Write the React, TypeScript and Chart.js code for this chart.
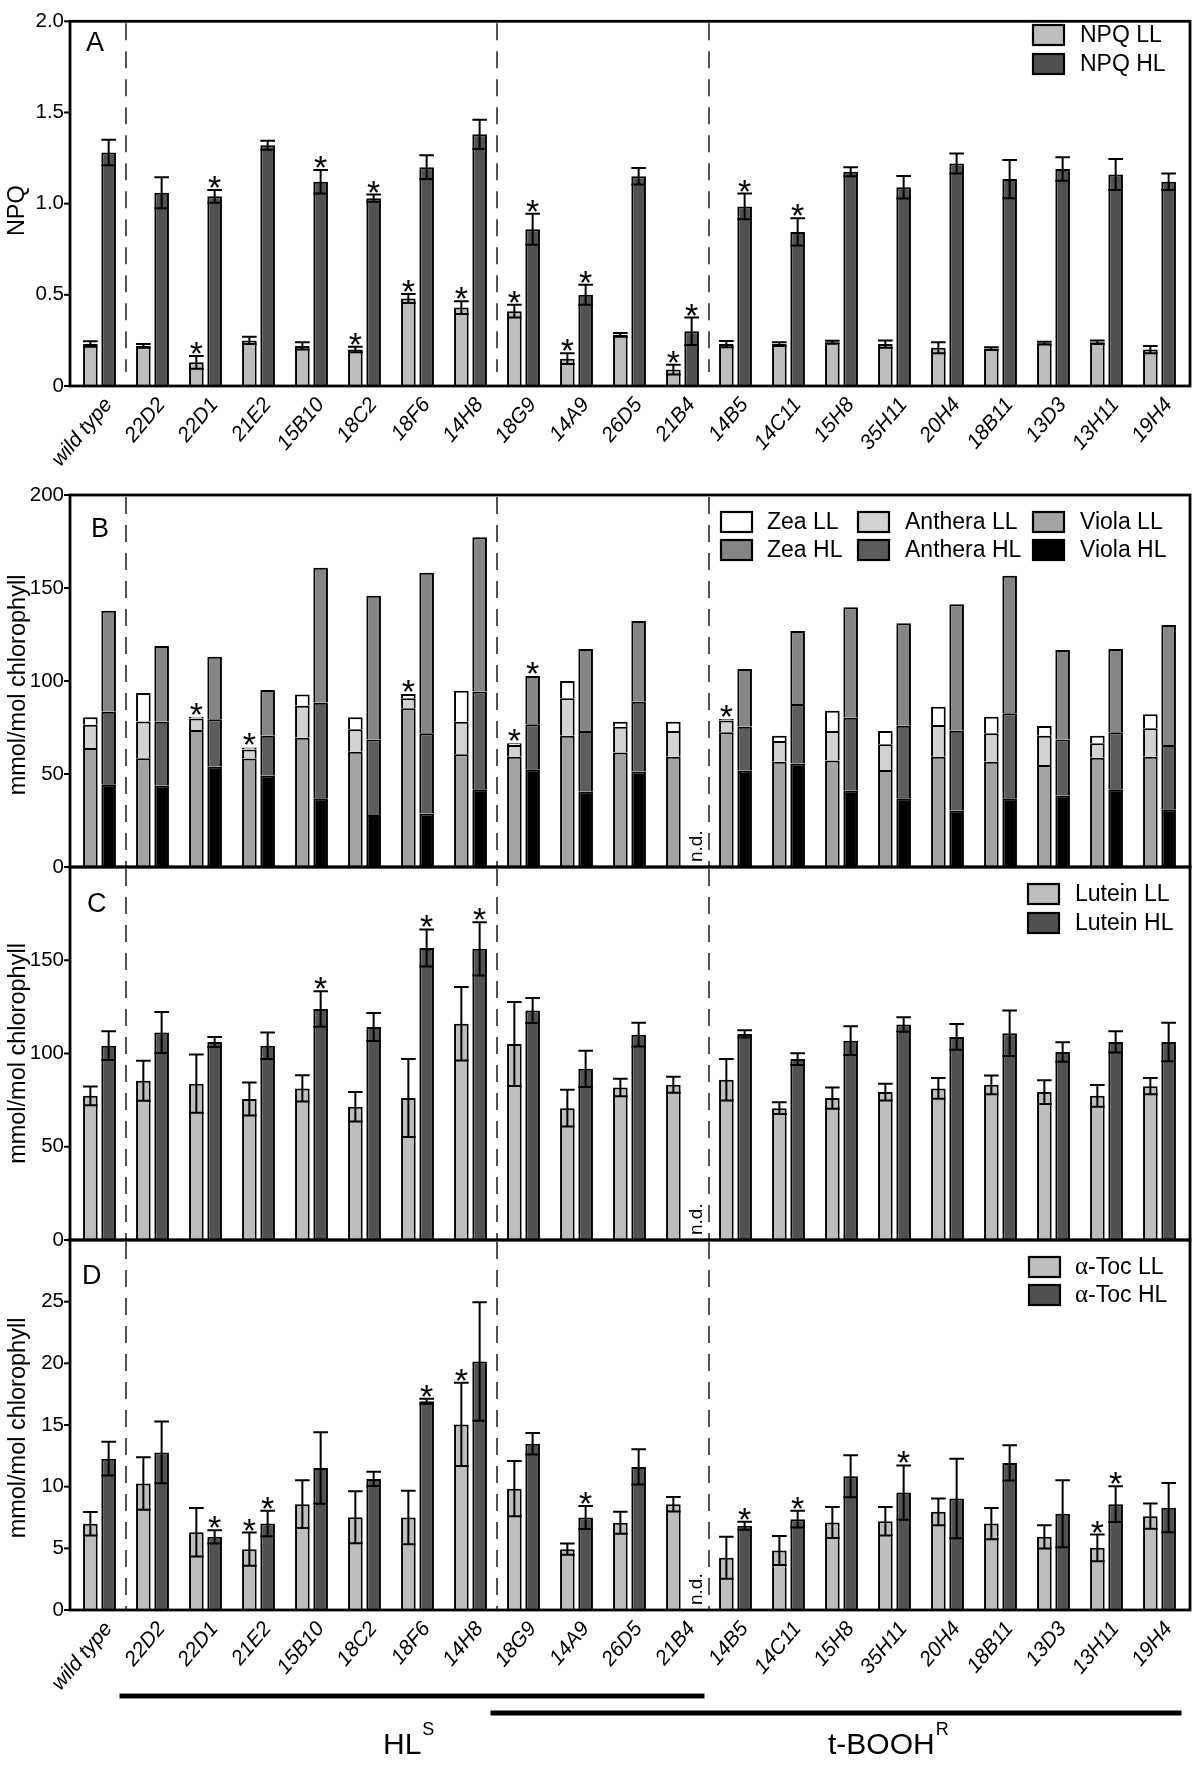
import React, { useEffect, useRef } from "react";
import { Chart, registerables } from "chart.js";

Chart.register(...registerables);

const FONT = "'Liberation Sans', Arial, Helvetica, sans-serif";
const SERIF = "'Liberation Serif', 'DejaVu Serif', serif";

const categories = ["wild type", "22D2", "22D1", "21E2", "15B10", "18C2", "18F6", "14H8", "18G9", "14A9", "26D5", "21B4", "14B5", "14C11", "15H8", "35H11", "20H4", "18B11", "13D3", "13H11", "19H4"];
const dividerAfter = [0, 7, 11];
const ndIndex = 11;
const groupNames = ["HL", "t-BOOH"];
const groupSup = ["S", "R"];
const groupFirst = [1, 8];
const groupLast = [11, 20];

// Panel A - NPQ
const npqLL = [0.23, 0.22, 0.13, 0.25, 0.22, 0.2, 0.48, 0.43, 0.41, 0.15, 0.28, 0.09, 0.23, 0.23, 0.24, 0.23, 0.21, 0.205, 0.235, 0.24, 0.2];
const npqLLErr = [0.015, 0.01, 0.035, 0.02, 0.02, 0.015, 0.025, 0.035, 0.035, 0.03, 0.01, 0.027, 0.017, 0.01, 0.008, 0.02, 0.03, 0.008, 0.008, 0.01, 0.02];
const npqLLSig = [0, 0, 1, 0, 0, 1, 1, 1, 1, 1, 0, 1, 0, 0, 0, 0, 0, 0, 0, 0, 0];
const npqHL = [1.28, 1.06, 1.04, 1.32, 1.12, 1.03, 1.2, 1.38, 0.86, 0.5, 1.15, 0.3, 0.985, 0.845, 1.175, 1.09, 1.22, 1.135, 1.19, 1.16, 1.12];
const npqHLErr = [0.07, 0.085, 0.035, 0.025, 0.065, 0.02, 0.065, 0.08, 0.085, 0.055, 0.045, 0.075, 0.07, 0.075, 0.025, 0.062, 0.055, 0.105, 0.065, 0.085, 0.045];
const npqHLSig = [0, 0, 1, 0, 1, 1, 0, 0, 1, 1, 0, 1, 1, 1, 0, 0, 0, 0, 0, 0, 0];

// Panel B - xanthophylls (stacked)
const violaLL = [64, 58.5, 73.7, 58.4, 69.5, 62, 85.3, 60.6, 59.3, 70.6, 61.5, 59.3, 72.4, 56.6, 57.2, 52.2, 59.3, 56.6, 54.8, 58.8, 59.3];
const antheraLL = [12.5, 19.7, 6.2, 4.8, 17.2, 12, 5.4, 17.5, 6.3, 20.1, 13.9, 13.8, 6.3, 11.1, 15.9, 13.8, 17, 15.3, 15.8, 7.7, 15.3];
const zeaLL = [4, 15.3, 0.9, 1.1, 6.1, 6.5, 2.3, 16.7, 0.9, 9.3, 2.7, 5, 0.9, 2.9, 10.9, 7.1, 9.9, 8.9, 5.2, 4.1, 7.5];
const xanLLSig = [0, 0, 1, 1, 0, 0, 1, 0, 1, 0, 0, 0, 1, 0, 0, 0, 0, 0, 0, 0, 0];
const violaHL = [44.5, 43.7, 53.9, 49.1, 36.9, 28, 28.8, 41.8, 52.5, 40.5, 51.3, null, 51.8, 55.7, 41, 36.9, 30.3, 36.9, 38.3, 41.8, 31];
const antheraHL = [39, 34.4, 25.5, 21.5, 51.4, 40.6, 43.1, 52.5, 24.2, 32.6, 37.6, null, 23.6, 31.9, 39.3, 39, 43, 45.7, 30.3, 30.6, 34.6];
const zeaHL = [54.3, 40.7, 33.6, 24.6, 72.6, 77.3, 86.3, 83, 26, 44.1, 43.4, null, 31.1, 39.3, 59.3, 55.1, 67.9, 74, 48.1, 44.8, 64.5];
const xanHLSig = [0, 0, 0, 0, 0, 0, 0, 0, 1, 0, 0, 0, 0, 0, 0, 0, 0, 0, 0, 0, 0];

// Panel C - lutein
const lutLL = [77.3, 85.4, 83.8, 75.6, 81.3, 71.4, 76.1, 116, 105.1, 70.7, 81.8, 83.2, 85.9, 70.7, 76.1, 79.3, 81.3, 83.2, 79.3, 77.3, 82.5];
const lutLLErr = [5, 10.7, 15.6, 8.9, 7, 7.9, 20.9, 19.7, 22.5, 9.8, 4.7, 4.3, 11.1, 3.2, 5.7, 4.5, 5.5, 5, 6.4, 5.8, 4.3];
const lutHL = [104.2, 111.3, 106.2, 104.2, 123.9, 114.2, 156.6, 156.1, 123.1, 91.8, 110.1, null, 110.5, 97, 106.9, 115.5, 108.9, 110.8, 100.8, 106.2, 106.2];
const lutHLErr = [7.7, 11, 2.7, 7.1, 9.5, 7.5, 9.9, 14.3, 6.7, 9.7, 6.4, 0, 1.9, 3.2, 7.7, 3.9, 6.9, 12.2, 5.2, 5.7, 10.3];
const lutHLSig = [0, 0, 0, 0, 1, 0, 1, 1, 0, 0, 0, 0, 0, 0, 0, 0, 0, 0, 0, 0, 0];

// Panel D - alpha-tocopherol
const tocLL = [7.0, 10.25, 6.3, 4.93, 8.58, 7.52, 7.5, 15.05, 9.84, 4.93, 7.07, 8.58, 4.24, 4.83, 7.1, 7.2, 7.96, 7.01, 5.93, 5.04, 7.61];
const tocLLErr = [0.95, 2.13, 1.97, 1.35, 1.94, 2.1, 2.16, 3.37, 2.24, 0.46, 0.89, 0.59, 1.7, 1.18, 1.26, 1.16, 1.08, 1.27, 0.95, 1.08, 1.02];
const tocLLSig = [0, 0, 0, 1, 0, 0, 0, 1, 0, 0, 0, 0, 0, 0, 0, 0, 0, 0, 0, 1, 0];
const tocHL = [12.27, 12.78, 5.93, 7.01, 11.52, 10.63, 16.93, 20.15, 13.48, 7.5, 11.6, null, 6.83, 7.36, 10.84, 9.52, 9.04, 11.92, 7.8, 8.58, 8.3];
const tocHLErr = [1.37, 2.5, 0.54, 1.03, 2.9, 0.57, 0.2, 4.8, 0.87, 0.94, 1.43, 0, 0.32, 0.68, 1.7, 2.2, 3.23, 1.43, 2.72, 1.45, 2.0];
const tocHLSig = [0, 0, 1, 1, 0, 0, 1, 0, 0, 1, 0, 0, 1, 1, 0, 1, 0, 0, 0, 1, 0];

const LL_COLOR = "#bdbdbd";
const HL_COLOR = "#515151";
const FRAME_L = 70;
const FRAME_R = 1190;

const decor = {
  id: "decor",
  afterDraw(chart: any, _args: any, o: any) {
    const ctx = chart.ctx;
    const ca = chart.chartArea;
    const xS = chart.scales.x;
    const yS = chart.scales.y;
    ctx.save();

    // dashed dividers
    ctx.strokeStyle = "#1a1a1a";
    ctx.lineWidth = 1.5;
    ctx.setLineDash([17, 11]);
    for (const b of dividerAfter) {
      const x = Math.round((xS.getPixelForValue(b) + xS.getPixelForValue(b + 1)) / 2);
      ctx.beginPath();
      ctx.moveTo(x, ca.top + 2);
      ctx.lineTo(x, ca.bottom - o.dashBottom);
      ctx.stroke();
    }
    ctx.setLineDash([]);

    // error bars + significance marks
    ctx.strokeStyle = "#000";
    ctx.lineWidth = 2;
    chart.data.datasets.forEach((ds: any, di: number) => {
      const meta = chart.getDatasetMeta(di);
      ds.data.forEach((v: any, i: number) => {
        if (v == null) return;
        const el: any = meta.data[i];
        let top = el.y;
        if (ds.errors) {
          const e = ds.errors[i];
          top = yS.getPixelForValue(v + e);
          const bot = yS.getPixelForValue(v - e);
          const hw = el.width / 2;
          ctx.beginPath();
          ctx.moveTo(el.x, top);
          ctx.lineTo(el.x, bot);
          ctx.moveTo(el.x - hw, top);
          ctx.lineTo(el.x + hw, top);
          ctx.moveTo(el.x - hw, bot);
          ctx.lineTo(el.x + hw, bot);
          ctx.stroke();
        }
        if (ds.sig && ds.sig[i]) {
          ctx.fillStyle = "#000";
          ctx.font = `34px ${FONT}`;
          ctx.textAlign = "center";
          ctx.textBaseline = "alphabetic";
          ctx.fillText("*", el.x, top + 9);
        }
      });
    });

    // frame
    ctx.strokeStyle = "#000";
    ctx.lineWidth = 2.8;
    ctx.strokeRect(FRAME_L, ca.top, FRAME_R - FRAME_L, ca.bottom - ca.top);

    // y tick marks
    ctx.lineWidth = 2;
    yS.ticks.forEach((t: any) => {
      const y = yS.getPixelForValue(t.value);
      ctx.beginPath();
      ctx.moveTo(FRAME_L - 6, y);
      ctx.lineTo(FRAME_L, y);
      ctx.stroke();
    });

    // panel letter
    ctx.fillStyle = "#000";
    ctx.font = `27px ${FONT}`;
    ctx.textAlign = "left";
    ctx.textBaseline = "alphabetic";
    ctx.fillText(o.letter, o.letterX, o.letterY);

    // y title
    ctx.save();
    ctx.translate(o.titleX, (ca.top + ca.bottom) / 2 + (o.titleDy || 0));
    ctx.rotate(-Math.PI / 2);
    ctx.font = `23.5px ${FONT}`;
    ctx.textAlign = "center";
    ctx.textBaseline = "middle";
    ctx.fillText(o.title, 0, 0);
    ctx.restore();

    // legend
    const lg = o.legend;
    lg.cols.forEach((col: any) => {
      col.ds.forEach((di: number, r: number) => {
        const ds = chart.data.datasets[di];
        const y = lg.rows[r];
        ctx.fillStyle = ds.backgroundColor;
        ctx.fillRect(col.x, y, 31, 20);
        ctx.strokeStyle = "#000";
        ctx.lineWidth = 2.2;
        ctx.strokeRect(col.x, y, 31, 20);
        ctx.fillStyle = "#000";
        ctx.textAlign = "left";
        ctx.textBaseline = "middle";
        let tx = col.x + col.dx;
        let label: string = ds.label;
        if (label.startsWith("α")) {
          ctx.font = `25px ${SERIF}`;
          ctx.fillText("α", tx, y + 10);
          tx += ctx.measureText("α").width;
          label = label.slice(1);
        }
        ctx.font = `23px ${FONT}`;
        ctx.fillText(label, tx, y + 11);
      });
    });

    // n.d.
    if (o.nd) {
      ctx.save();
      ctx.translate(xS.getPixelForValue(ndIndex) + 14, ca.bottom - 5);
      ctx.rotate(-Math.PI / 2);
      ctx.font = `19px ${FONT}`;
      ctx.textAlign = "left";
      ctx.textBaseline = "middle";
      ctx.fillText("n.d.", 0, 0);
      ctx.restore();
    }

    // category labels
    if (o.labels) {
      ctx.font = `italic 21px ${FONT}`;
      ctx.textAlign = "right";
      ctx.textBaseline = "middle";
      categories.forEach((c, i) => {
        ctx.save();
        ctx.translate(xS.getPixelForValue(i) + 9, ca.bottom + 15);
        ctx.rotate((-50 * Math.PI) / 180);
        ctx.fillText(c, 0, 0);
        ctx.restore();
      });
    }

    // group bars
    if (o.groups) {
      const gY = [1696, 1713];
      const gTX = [383, 828];
      groupNames.forEach((g, k) => {
        const x0 = xS.getPixelForValue(groupFirst[k]) - 33;
        const x1 = xS.getPixelForValue(groupLast[k]) + 22;
        ctx.strokeStyle = "#000";
        ctx.lineWidth = 5;
        ctx.beginPath();
        ctx.moveTo(x0, gY[k]);
        ctx.lineTo(x1, gY[k]);
        ctx.stroke();
        ctx.fillStyle = "#000";
        ctx.textAlign = "left";
        ctx.textBaseline = "alphabetic";
        ctx.font = `30px ${FONT}`;
        ctx.fillText(g, gTX[k], 1754);
        const w = ctx.measureText(g).width;
        ctx.font = `18px ${FONT}`;
        ctx.fillText(groupSup[k], gTX[k] + w + 1, 1735);
      });
    }

    ctx.restore();
  },
};

function yAxis(max: number, step: number, fmt: (v: number) => string, hideTop: boolean) {
  return {
    min: 0,
    max,
    ticks: {
      stepSize: step,
      color: "#000",
      padding: 9,
      font: { family: FONT, size: 20.5 },
      callback: (v: any) => (hideTop && Math.abs(v - max) < 1e-9 ? "" : fmt(Number(v))),
    },
    grid: { display: false, drawTicks: false },
    border: { display: false },
    afterFit: (s: any) => {
      s.width = 73;
    },
  };
}

function baseOptions(top: number, bottom: number, yScale: any, decorOpts: any, stacked: boolean) {
  return {
    responsive: false,
    maintainAspectRatio: false,
    animation: false,
    devicePixelRatio: 1,
    layout: { padding: { left: 0, right: 14, top, bottom: 1765 - bottom } },
    plugins: { legend: { display: false }, tooltip: { enabled: false }, decor: decorOpts },
    scales: {
      x: { type: "category", display: false, stacked },
      y: { ...yScale, stacked },
    },
  };
}

const barCommon = { borderColor: "#000", borderWidth: 2, categoryPercentage: 0.69, barPercentage: 0.8 };

function configA(): any {
  return {
    type: "bar",
    data: {
      labels: categories,
      datasets: [
        { label: "NPQ LL", data: npqLL, errors: npqLLErr, sig: npqLLSig, backgroundColor: LL_COLOR, ...barCommon },
        { label: "NPQ HL", data: npqHL, errors: npqHLErr, sig: npqHLSig, backgroundColor: HL_COLOR, ...barCommon },
      ],
    },
    options: baseOptions(14, 386, yAxis(2, 0.5, (v) => (v === 0 ? "0" : v.toFixed(1)), false), {
      dashBottom: 14,
      letter: "A", letterX: 86, letterY: 51,
      title: "NPQ", titleX: 18, titleDy: 7,
      legend: { rows: [25, 54], cols: [{ x: 1033, dx: 47, ds: [0, 1] }] },
      nd: false, labels: true, groups: false,
    }, false),
    plugins: [decor],
  };
}

function configB(): any {
  const mk = (label: string, data: any[], color: string, stack: string, sig?: number[]) => ({
    label, data, backgroundColor: color, stack, sig, ...barCommon,
  });
  return {
    type: "bar",
    data: {
      labels: categories,
      datasets: [
        mk("Viola LL", violaLL, "#a3a3a3", "LL"),
        mk("Anthera LL", antheraLL, "#d2d2d2", "LL"),
        mk("Zea LL", zeaLL, "#ffffff", "LL", xanLLSig),
        mk("Viola HL", violaHL, "#000000", "HL"),
        mk("Anthera HL", antheraHL, "#5c5c5c", "HL"),
        mk("Zea HL", zeaHL, "#858585", "HL", xanHLSig),
      ],
    },
    options: baseOptions(495, 867, yAxis(200, 50, (v) => String(v), false), {
      dashBottom: 0,
      letter: "B", letterX: 91, letterY: 537,
      title: "mmol/mol chlorophyll", titleX: 19, titleDy: 4,
      legend: { rows: [512, 540], cols: [{ x: 721, dx: 46, ds: [2, 5] }, { x: 858, dx: 47, ds: [1, 4] }, { x: 1033, dx: 47, ds: [0, 3] }] },
      nd: true, labels: false, groups: false,
    }, true),
    plugins: [decor],
  };
}

function configC(): any {
  return {
    type: "bar",
    data: {
      labels: categories,
      datasets: [
        { label: "Lutein LL", data: lutLL, errors: lutLLErr, backgroundColor: LL_COLOR, ...barCommon },
        { label: "Lutein HL", data: lutHL, errors: lutHLErr, sig: lutHLSig, backgroundColor: HL_COLOR, ...barCommon },
      ],
    },
    options: baseOptions(867, 1240, yAxis(200, 50, (v) => String(v), true), {
      dashBottom: 0,
      letter: "C", letterX: 87, letterY: 912,
      title: "mmol/mol chlorophyll", titleX: 19, titleDy: 0,
      legend: { rows: [884, 913], cols: [{ x: 1028, dx: 47, ds: [0, 1] }] },
      nd: true, labels: false, groups: false,
    }, false),
    plugins: [decor],
  };
}

function configD(): any {
  return {
    type: "bar",
    data: {
      labels: categories,
      datasets: [
        { label: "α-Toc LL", data: tocLL, errors: tocLLErr, sig: tocLLSig, backgroundColor: LL_COLOR, ...barCommon },
        { label: "α-Toc HL", data: tocHL, errors: tocHLErr, sig: tocHLSig, backgroundColor: HL_COLOR, ...barCommon },
      ],
    },
    options: baseOptions(1240, 1610, yAxis(30, 5, (v) => String(v), true), {
      dashBottom: 0,
      letter: "D", letterX: 82, letterY: 1284,
      title: "mmol/mol chlorophyll", titleX: 19, titleDy: 3,
      legend: { rows: [1257, 1285], cols: [{ x: 1029, dx: 46, ds: [0, 1] }] },
      nd: true, labels: true, groups: true,
    }, false),
    plugins: [decor],
  };
}

export default function App() {
  const refA = useRef<HTMLCanvasElement>(null);
  const refB = useRef<HTMLCanvasElement>(null);
  const refC = useRef<HTMLCanvasElement>(null);
  const refD = useRef<HTMLCanvasElement>(null);

  useEffect(() => {
    const charts = [
      new Chart(refA.current as HTMLCanvasElement, configA()),
      new Chart(refB.current as HTMLCanvasElement, configB()),
      new Chart(refC.current as HTMLCanvasElement, configC()),
      new Chart(refD.current as HTMLCanvasElement, configD()),
    ];
    return () => charts.forEach((c) => c.destroy());
  }, []);

  const style: React.CSSProperties = { position: "absolute", left: 0, top: 0, width: 1200, height: 1765 };
  return (
    <div style={{ position: "absolute", left: 0, top: 0, width: 1200, height: 1765, background: "#fff", overflow: "hidden" }}>
      <canvas ref={refA} width={1200} height={1765} style={style} />
      <canvas ref={refB} width={1200} height={1765} style={style} />
      <canvas ref={refC} width={1200} height={1765} style={style} />
      <canvas ref={refD} width={1200} height={1765} style={style} />
    </div>
  );
}
